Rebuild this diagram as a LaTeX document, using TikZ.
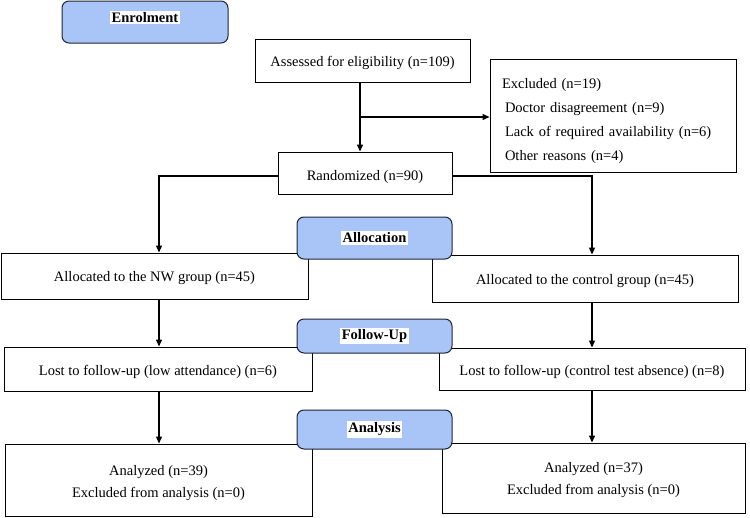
\documentclass[tikz,border=0pt]{standalone}
\usepackage{fontspec}
\setmainfont{Liberation Serif}
\usetikzlibrary{arrows.meta}
\definecolor{lblue}{HTML}{A9C5F7}
\definecolor{edgec}{HTML}{1E2533}
\newcommand\wbg[1]{{\setlength{\fboxsep}{1.5pt}\colorbox{white}{#1}}}
\newcommand\dn[1]{\rule{0pt}{#1pt}}
\begin{document}
\begin{tikzpicture}[x=1pt,y=-1pt,
  box/.style={draw=black, line width=0.9pt, fill=white, rectangle, inner sep=0pt, align=center, font=\fontsize{14.5}{22}\selectfont},
  stage/.style={draw=edgec, line width=1pt, fill=lblue, rounded corners=7pt, inner sep=0pt, font=\fontsize{14.5}{17}\selectfont\bfseries},
  arr/.style={line width=1.1pt, -{Triangle[length=7pt,width=6pt]}}]
\useasboundingbox (0,0) rectangle (750,517);

% content boxes
\node[box, minimum width=215pt, minimum height=43pt] (assess) at (362.5,60.5) {\dn{15}Assessed for eligibility (n=109)};
\node[box, minimum width=246pt, minimum height=113pt, text width=222pt, align=left, font=\fontsize{14.5}{24}\selectfont] (excl) at (613,115.5)
  {\dn{22}Excluded (n=19)\\ \hspace*{3pt}Doctor disagreement (n=9)\\ \hspace*{3pt}Lack of required availability (n=6)\\ \hspace*{3pt}Other reasons (n=4)};
\node[box, minimum width=174pt, minimum height=42pt] (rand) at (365,173) {\dn{19}Randomized (n=90)};
\node[box, minimum width=307pt, minimum height=46pt] (nw) at (154.5,276) {\dn{14}Allocated to the NW group (n=45)};
\node[box, minimum width=306pt, minimum height=47pt] (ctrl) at (585,278.5) {\dn{16}Allocated to the control group (n=45)};
\node[box, minimum width=308pt, minimum height=44pt] (lostnw) at (158,369) {\dn{16}Lost to follow-up (low attendance) (n=6)};
\node[box, minimum width=306pt, minimum height=42pt] (lostctrl) at (592,369) {\dn{16}Lost to follow-up (control test absence) (n=8)};
\node[box, minimum width=307pt, minimum height=72pt] (annw) at (158.5,480) {\dn{16}Analyzed (n=39)\\ Excluded from analysis (n=0)};
\node[box, minimum width=303pt, minimum height=70pt] (anctrl) at (593.5,478) {\dn{15}Analyzed (n=37)\\ Excluded from analysis (n=0)};

% connectors
\coordinate (j0) at (360,117);
\coordinate (jl) at (159,176);
\coordinate (jr) at (592,176);
\draw[arr] (j0 |- assess.south) -- (j0 |- rand.north);
\draw[arr] (j0) -- (j0 -| excl.west);
\draw[arr] (rand.west |- jl) -| (jl |- nw.north);
\draw[arr] (rand.east |- jr) -| (jr |- ctrl.north);
\draw[arr] (jl |- nw.south) -- (jl |- lostnw.north);
\draw[arr] (jr |- ctrl.south) -- (jr |- lostctrl.north);
\draw[arr] (jl |- lostnw.south) -- (jl |- annw.north);
\draw[arr] (jr |- lostctrl.south) -- (jr |- anctrl.north);

% stage labels
\node[stage, minimum width=166pt, minimum height=42pt] (enrol) at (145,22) {\rule[-10pt]{0pt}{10pt}\wbg{Enrolment}};
\node[stage, minimum width=155pt, minimum height=42pt] (alloc) at (374.5,238) {\wbg{Allocation}};
\node[stage, minimum width=155pt, minimum height=34pt] (follow) at (374.5,336) {\wbg{Follow-Up}};
\node[stage, minimum width=155pt, minimum height=39pt] (analysis) at (374.5,429.5) {\wbg{Analysis}};
\end{tikzpicture}
\end{document}
